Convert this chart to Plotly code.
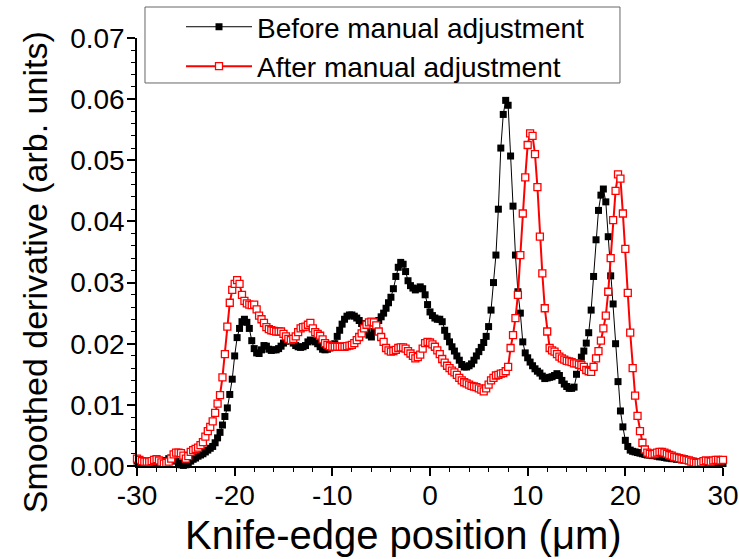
import numpy as np
import plotly.graph_objects as go

# x grid of the measurement (µm)
x_start = -30.0
x_step = 0.25
n_points = 241

before_values = [
    0.0008, 0.0006, 0.0005, 0.0004,
    0.0004, 0.0005, 0.0005, 0.0004,
    0.0003, 0.0004, 0.0005, 0.0007,
    0.0009, 0.0012, 0.0013, 0.0011,
    0.0008, 0.0005, 0.0002, 0.0001,
    0.0002, 0.0005, 0.0008, 0.0011,
    0.0013, 0.0016, 0.0018, 0.0020,
    0.0023, 0.0026, 0.0029, 0.0032,
    0.0038, 0.0046, 0.0055, 0.0067,
    0.0081, 0.0095, 0.0117, 0.0142,
    0.0180, 0.0210, 0.0225, 0.0236,
    0.0240, 0.0235, 0.0225, 0.0205,
    0.0192, 0.0185, 0.0184, 0.0190,
    0.0197, 0.0196, 0.0191, 0.0189,
    0.0190, 0.0190, 0.0192, 0.0196,
    0.0201, 0.0204, 0.0206, 0.0205,
    0.0201, 0.0197, 0.0195, 0.0194,
    0.0195, 0.0197, 0.0203, 0.0206,
    0.0205, 0.0203, 0.0200, 0.0195,
    0.0191, 0.0190, 0.0191, 0.0193,
    0.0195, 0.0200, 0.0212, 0.0222,
    0.0232, 0.0240, 0.0245, 0.0247,
    0.0247, 0.0245, 0.0242, 0.0238,
    0.0233, 0.0227, 0.0220, 0.0214,
    0.0211, 0.0220, 0.0235, 0.0238,
    0.0244, 0.0250, 0.0258, 0.0267,
    0.0276, 0.0290, 0.0310, 0.0325,
    0.0333, 0.0330, 0.0318, 0.0303,
    0.0295, 0.0291, 0.0288, 0.0290,
    0.0293, 0.0290, 0.0280, 0.0264,
    0.0252, 0.0246, 0.0242, 0.0240,
    0.0240, 0.0236, 0.0222, 0.0212,
    0.0203, 0.0195, 0.0188, 0.0180,
    0.0173, 0.0166, 0.0162, 0.0162,
    0.0164, 0.0167, 0.0173, 0.0180,
    0.0187, 0.0194, 0.0202, 0.0212,
    0.0228, 0.0255, 0.0300, 0.0345,
    0.0420, 0.0520, 0.0575, 0.0598,
    0.0590, 0.0507, 0.0425, 0.0345,
    0.0285, 0.0250, 0.0203, 0.0185,
    0.0177, 0.0170, 0.0164, 0.0159,
    0.0155, 0.0152, 0.0147, 0.0143,
    0.0144, 0.0145, 0.0146, 0.0148,
    0.0151, 0.0148, 0.0140, 0.0134,
    0.0130, 0.0127, 0.0127, 0.0129,
    0.0150, 0.0165, 0.0178, 0.0188,
    0.0201, 0.0218, 0.0255, 0.0310,
    0.0370, 0.0418, 0.0443, 0.0453,
    0.0432, 0.0375, 0.0311, 0.0265,
    0.0200, 0.0138, 0.0090, 0.0064,
    0.0042, 0.0032, 0.0026, 0.0024,
    0.0023, 0.0022, 0.0021, 0.0020,
    0.0019, 0.0018, 0.0018, 0.0017,
    0.0017, 0.0016, 0.0015, 0.0015,
    0.0014, 0.0013, 0.0013, 0.0012,
    0.0012, 0.0011, 0.0011, 0.0010,
    0.0010, 0.0009, 0.0009, 0.0008,
    0.0008, 0.0007, 0.0007, 0.0007,
    0.0006, 0.0006, 0.0006, 0.0005,
    0.0005, 0.0005, 0.0005, 0.0004,
    0.0004,
]

after_values = [
    0.0012, 0.0010, 0.0008, 0.0007,
    0.0007, 0.0007, 0.0008, 0.0010,
    0.0011, 0.0009, 0.0006, 0.0004,
    0.0005, 0.0007, 0.0012, 0.0019,
    0.0022, 0.0022, 0.0021, 0.0017,
    0.0012, 0.0016, 0.0023, 0.0026,
    0.0028, 0.0030, 0.0034, 0.0039,
    0.0048, 0.0057, 0.0064, 0.0073,
    0.0087, 0.0102, 0.0116, 0.0145,
    0.0183, 0.0228, 0.0267, 0.0288,
    0.0298, 0.0304, 0.0298, 0.0280,
    0.0270, 0.0266, 0.0264, 0.0263,
    0.0264, 0.0256, 0.0246, 0.0240,
    0.0234, 0.0227, 0.0224, 0.0222,
    0.0221, 0.0220, 0.0220, 0.0220,
    0.0216, 0.0212, 0.0208, 0.0206,
    0.0208, 0.0212, 0.0219, 0.0225,
    0.0227, 0.0228, 0.0231, 0.0234,
    0.0225, 0.0219, 0.0216, 0.0213,
    0.0207, 0.0201, 0.0198, 0.0196,
    0.0195, 0.0195, 0.0195, 0.0195,
    0.0195, 0.0195, 0.0196, 0.0197,
    0.0198, 0.0201, 0.0206, 0.0211,
    0.0217, 0.0225, 0.0231, 0.0235,
    0.0236, 0.0235, 0.0230, 0.0220,
    0.0211, 0.0203, 0.0193, 0.0189,
    0.0187, 0.0188, 0.0190, 0.0193,
    0.0194, 0.0194, 0.0192, 0.0188,
    0.0184, 0.0180, 0.0176, 0.0178,
    0.0182, 0.0192, 0.0201, 0.0203,
    0.0202, 0.0199, 0.0195, 0.0189,
    0.0183, 0.0175, 0.0169, 0.0164,
    0.0160, 0.0156, 0.0153, 0.0149,
    0.0144, 0.0140, 0.0137, 0.0135,
    0.0133, 0.0131, 0.0130, 0.0129,
    0.0127, 0.0125, 0.0122, 0.0127,
    0.0133, 0.0140, 0.0144, 0.0148,
    0.0149, 0.0151, 0.0152, 0.0155,
    0.0162, 0.0193, 0.0214, 0.0242,
    0.0280, 0.0345, 0.0413, 0.0472,
    0.0525, 0.0544, 0.0540, 0.0510,
    0.0456, 0.0375, 0.0315, 0.0258,
    0.0220, 0.0193, 0.0189, 0.0187,
    0.0183, 0.0179, 0.0176, 0.0174,
    0.0172, 0.0171, 0.0170, 0.0168,
    0.0168, 0.0166, 0.0165, 0.0162,
    0.0157, 0.0155, 0.0154, 0.0162,
    0.0176, 0.0188, 0.0205, 0.0225,
    0.0246, 0.0285, 0.0340, 0.0402,
    0.0450, 0.0477, 0.0470, 0.0413,
    0.0355, 0.0283, 0.0218, 0.0160,
    0.0115, 0.0082, 0.0057, 0.0038,
    0.0027, 0.0022, 0.0020, 0.0019,
    0.0020, 0.0022, 0.0023, 0.0023,
    0.0022, 0.0020, 0.0018, 0.0017,
    0.0015, 0.0014, 0.0013, 0.0012,
    0.0011, 0.0010, 0.0009, 0.0007,
    0.0006, 0.0005, 0.0005, 0.0006,
    0.0008, 0.0009, 0.0008, 0.0007,
    0.0009, 0.0010, 0.0010, 0.0009,
    0.0010,
]

x_tick_values = [-30, -20, -10, 0, 10, 20, 30]
x_tick_labels = ["-30", "-20", "-10", "0", "10", "20", "30"]
y_tick_values = [0.00, 0.01, 0.02, 0.03, 0.04, 0.05, 0.06, 0.07]
y_tick_labels = ["0.00", "0.01", "0.02", "0.03", "0.04", "0.05", "0.06", "0.07"]

x_title = "Knife-edge position (\u03bcm)"
y_title = "Smoothed derivative (arb. units)"

x_positions = x_start + x_step * np.arange(n_points)
assert len(before_values) == n_points and len(after_values) == n_points

FONT = "Liberation Sans, Arial, sans-serif"

fig = go.Figure()
fig.add_trace(go.Scatter(
    x=x_positions, y=before_values, mode="lines+markers",
    name="Before manual adjustment",
    line=dict(color="black", width=1),
    marker=dict(symbol="square", size=7, color="black", line=dict(width=0)),
    cliponaxis=False,
))
fig.add_trace(go.Scatter(
    x=x_positions, y=after_values, mode="lines+markers",
    name="After manual adjustment",
    line=dict(color="#ff0000", width=2),
    marker=dict(symbol="square", size=7, color="white",
                line=dict(width=1.3, color="#ff0000")),
    cliponaxis=False,
))

fig.update_layout(
    width=739, height=559,
    margin=dict(l=137, r=16, t=38, b=93, autoexpand=False),
    paper_bgcolor="white", plot_bgcolor="white",
    font=dict(family=FONT, color="black"),
    showlegend=True,
    legend=dict(
        x=0.0751, y=1.084, xanchor="left", yanchor="top",
        bgcolor="rgba(0,0,0,0)", borderwidth=0,
        font=dict(size=28, family=FONT, color="black"),
        itemwidth=66, tracegroupgap=0,
    ),
    xaxis=dict(
        range=[-30, 30], tickmode="array", tickvals=x_tick_values,
        ticktext=x_tick_labels, ticks="outside", ticklen=8, tickwidth=1.5,
        tickcolor="black", showline=True, linecolor="black", linewidth=1.5,
        showgrid=False, zeroline=False, mirror=False, automargin=False,
        tickfont=dict(size=28, family=FONT), ticklabelstandoff=-4,
        minor=dict(dtick=2, ticks="outside", ticklen=4, tickwidth=1.2,
                   tickcolor="black", showgrid=False),
    ),
    yaxis=dict(
        range=[0, 0.07], tickmode="array", tickvals=y_tick_values,
        ticktext=y_tick_labels, ticks="outside", ticklen=8, tickwidth=1.5,
        tickcolor="black", showline=True, linecolor="black", linewidth=1.5,
        showgrid=False, zeroline=False, mirror=False, automargin=False,
        tickfont=dict(size=28, family=FONT), ticklabelstandoff=-3,
        minor=dict(dtick=0.002, ticks="outside", ticklen=4, tickwidth=1.2,
                   tickcolor="black", showgrid=False),
    ),
    annotations=[
        dict(text=x_title, xref="paper", yref="paper", x=0.454, y=-0.161,
             xanchor="center", yanchor="middle", showarrow=False,
             font=dict(size=40, family=FONT, color="black")),
        dict(text=y_title, xref="paper", yref="paper", x=-0.174, y=0.453,
             xanchor="center", yanchor="middle", showarrow=False,
             textangle=-90, font=dict(size=34, family=FONT, color="black")),
    ],
    shapes=[
        dict(type="rect", xref="paper", yref="paper",
             x0=0.01365, x1=0.8242, y0=0.8949, y1=1.0724,
             line=dict(color="#666666", width=1), fillcolor="rgba(0,0,0,0)",
             layer="above"),
    ],
)

fig.write_html("out.html")
